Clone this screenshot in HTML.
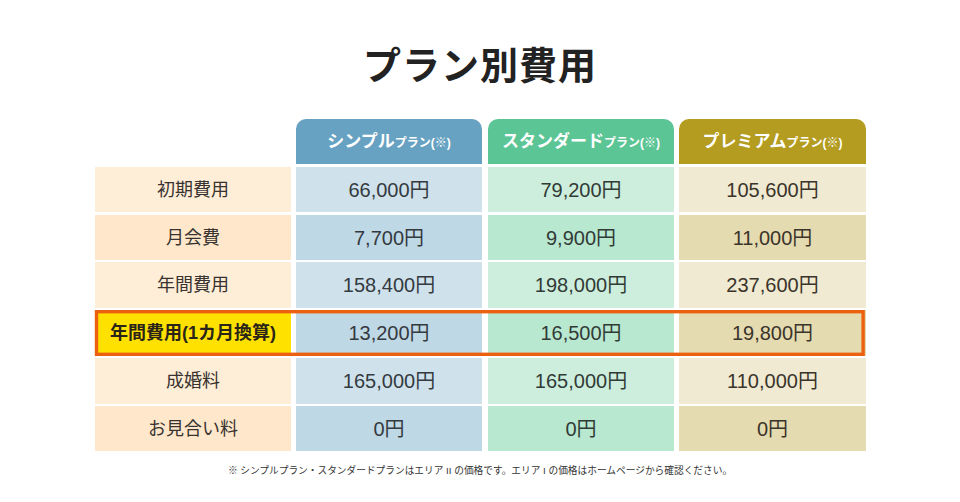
<!DOCTYPE html>
<html lang="ja">
<head>
<meta charset="utf-8">
<title>プラン別費用</title>
<style>
html,body{margin:0;padding:0;background:#fff}
body{position:relative;width:960px;height:502px;overflow:hidden;font-family:"Liberation Sans","Noto Sans CJK JP",sans-serif;color:#333}
h1,p{margin:0;padding:0;font-weight:normal}
svg{display:block;position:absolute;left:0;top:0}
.tx{position:absolute;left:0;top:0;right:0;bottom:0;display:flex;align-items:center;justify-content:center;white-space:nowrap;color:#333;font-size:18px;line-height:1;font-family:"Liberation Sans","Noto Sans CJK JP",sans-serif}
.tx small{font-size:12px}
.title .tx{font-size:38px;font-weight:bold;top:47px;bottom:25px;color:#222;letter-spacing:1px}
.th .tx{font-size:17px;font-weight:bold;color:#fff}
.lab .tx{color:#383330}
.tx.b{font-weight:bold;color:#2a2518}
.tx.n{font-size:20px}
.tx.c1{color:#343a40}
.tx.c2{color:#313b36}
.tx.c3{color:#3a342a}
.note .tx{font-size:9.7px;top:10px;bottom:8px;color:#333}
.title{position:absolute;left:0;top:0;width:960px;height:110px}
.th,.td{position:absolute;overflow:hidden}
.th{border-radius:10px 10px 0 0}
.hl{position:absolute;left:0;top:300px;width:960px;height:66px;pointer-events:none}
.note{position:absolute;left:0;top:455px;width:960px;height:30px}
</style>
</head>
<body>
<h1 class="title"><span class="tx">プラン別費用</span></h1>
<div class="table" role="table" aria-label="プラン別費用">
<div class="tr" role="row"><div class="th corner" role="columnheader" style="left:95px;top:119px;width:196px;height:45px;background:transparent"></div><div class="th" role="columnheader" style="left:296px;top:119px;width:186px;height:45px;background:#68A2C2"><span class="tx"><span>シンプル<small>プラン(※)</small></span></span></div><div class="th" role="columnheader" style="left:488px;top:119px;width:186px;height:45px;background:#5CC595"><span class="tx"><span>スタンダード<small>プラン(※)</small></span></span></div><div class="th" role="columnheader" style="left:679px;top:119px;width:187px;height:45px;background:#B39C1F"><span class="tx"><span>プレミアム<small>プラン(※)</small></span></span></div></div>
<div class="tr" role="row"><div class="td lab" role="rowheader" style="left:95px;top:167px;width:196px;height:45px;background:#FEEDD7"><span class="tx">初期費用</span></div><div class="td" role="cell" style="left:296px;top:167px;width:186px;height:45px;background:#CFE2EC"><span class="tx n c1">66,000円</span></div><div class="td" role="cell" style="left:488px;top:167px;width:186px;height:45px;background:#CDEEDD"><span class="tx n c2">79,200円</span></div><div class="td" role="cell" style="left:679px;top:167px;width:187px;height:45px;background:#F0EAD3"><span class="tx n c3">105,600円</span></div></div>
<div class="tr" role="row"><div class="td lab" role="rowheader" style="left:95px;top:215px;width:196px;height:45px;background:#FEE7CA"><span class="tx">月会費</span></div><div class="td" role="cell" style="left:296px;top:215px;width:186px;height:45px;background:#BFD8E6"><span class="tx n c1">7,700円</span></div><div class="td" role="cell" style="left:488px;top:215px;width:186px;height:45px;background:#B9E8D1"><span class="tx n c2">9,900円</span></div><div class="td" role="cell" style="left:679px;top:215px;width:187px;height:45px;background:#E5DBB0"><span class="tx n c3">11,000円</span></div></div>
<div class="tr" role="row"><div class="td lab" role="rowheader" style="left:95px;top:262px;width:196px;height:46px;background:#FEEDD7"><span class="tx">年間費用</span></div><div class="td" role="cell" style="left:296px;top:262px;width:186px;height:46px;background:#CFE2EC"><span class="tx n c1">158,400円</span></div><div class="td" role="cell" style="left:488px;top:262px;width:186px;height:46px;background:#CDEEDD"><span class="tx n c2">198,000円</span></div><div class="td" role="cell" style="left:679px;top:262px;width:187px;height:46px;background:#F0EAD3"><span class="tx n c3">237,600円</span></div></div>
<div class="tr" role="row"><div class="td lab" role="rowheader" style="left:95px;top:310px;width:196px;height:46px;background:#FFE100"><span class="tx b">年間費用(1カ月換算)</span></div><div class="td" role="cell" style="left:296px;top:310px;width:186px;height:46px;background:#BFD8E6"><span class="tx n c1">13,200円</span></div><div class="td" role="cell" style="left:488px;top:310px;width:186px;height:46px;background:#B9E8D1"><span class="tx n c2">16,500円</span></div><div class="td" role="cell" style="left:679px;top:310px;width:187px;height:46px;background:#E5DBB0"><span class="tx n c3">19,800円</span></div></div>
<div class="tr" role="row"><div class="td lab" role="rowheader" style="left:95px;top:358px;width:196px;height:46px;background:#FEEDD7"><span class="tx">成婚料</span></div><div class="td" role="cell" style="left:296px;top:358px;width:186px;height:46px;background:#CFE2EC"><span class="tx n c1">165,000円</span></div><div class="td" role="cell" style="left:488px;top:358px;width:186px;height:46px;background:#CDEEDD"><span class="tx n c2">165,000円</span></div><div class="td" role="cell" style="left:679px;top:358px;width:187px;height:46px;background:#F0EAD3"><span class="tx n c3">110,000円</span></div></div>
<div class="tr" role="row"><div class="td lab" role="rowheader" style="left:95px;top:406px;width:196px;height:45px;background:#FEE7CA"><span class="tx">お見合い料</span></div><div class="td" role="cell" style="left:296px;top:406px;width:186px;height:45px;background:#BFD8E6"><span class="tx n c1">0円</span></div><div class="td" role="cell" style="left:488px;top:406px;width:186px;height:45px;background:#B9E8D1"><span class="tx n c2">0円</span></div><div class="td" role="cell" style="left:679px;top:406px;width:187px;height:45px;background:#E5DBB0"><span class="tx n c3">0円</span></div></div>
<svg class="hl" aria-hidden="true" viewBox="0 300 960 66" width="960" height="66"><rect x="96.5" y="311.7" width="766.6" height="42.6" fill="none" stroke="#EB6110" stroke-width="3.4"/></svg>
</div>
<p class="note"><span class="tx">※ シンプルプラン・スタンダードプランはエリア II の価格です。エリア I の価格はホームページから確認ください。</span></p>
</body>
</html>
